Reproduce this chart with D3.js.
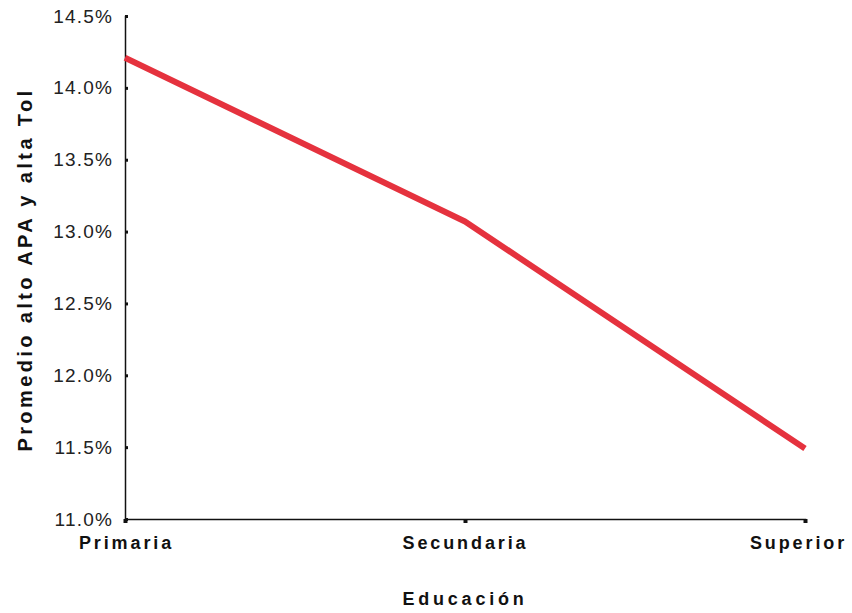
<!DOCTYPE html>
<html>
<head>
<meta charset="utf-8">
<script src="https://cdn.jsdelivr.net/npm/d3@7"></script>
<style>
  body { margin: 0; background: #fff; }
  text { font-family: "Liberation Sans", Arial, sans-serif; }
</style>
</head>
<body>
<div id="chart"></div>
<script>
// education levels and average values (%)
const categories = ["Primaria", "Secundaria", "Superior"];
const values = [14.21, 13.07, 11.49];
const yTicks = [11.0, 11.5, 12.0, 12.5, 13.0, 13.5, 14.0, 14.5];

function drawChart(id) {
  const w = 852;
  const h = 613;
  const margin = { top: 16, right: 47, bottom: 94, left: 125 };

  const svg = d3
    .select(`#${id}`)
    .append("svg")
    .attr("width", w)
    .attr("height", h);

  const x = d3
    .scalePoint()
    .domain(categories)
    .range([margin.left, w - margin.right]);

  const y = d3
    .scaleLinear()
    .domain([11, 14.5])
    .range([h - margin.bottom, margin.top]);

  // y axis
  const yAxis = svg
    .append("g")
    .attr("transform", `translate(${margin.left},0)`)
    .call(
      d3
        .axisLeft(y)
        .tickValues(yTicks)
        .tickSize(-3)
        .tickPadding(12)
        .tickFormat((d) => d3.format(".1f")(d) + "%")
    );
  yAxis.select(".domain").attr("stroke", "#111").attr("stroke-width", 1.5);
  yAxis.selectAll(".tick line").attr("stroke", "#111").attr("stroke-width", 3);
  yAxis
    .selectAll(".tick text")
    .attr("font-size", 19)
    .attr("letter-spacing", 1.2)
    .attr("fill", "#222");

  // x axis
  const xAxis = svg
    .append("g")
    .attr("transform", `translate(0,${h - margin.bottom})`)
    .call(d3.axisBottom(x).tickSize(4).tickPadding(13));
  xAxis.select(".domain").attr("stroke", "#111").attr("stroke-width", 1.5);
  xAxis.selectAll(".tick line").attr("stroke", "#111").attr("stroke-width", 4);
  xAxis
    .selectAll(".tick text")
    .attr("font-size", 18)
    .attr("font-weight", "bold")
    .attr("letter-spacing", 2.9)
    .attr("fill", "#111")
    .attr("dx", (d, i) => (i === 0 ? 1 : i === 2 ? -7 : 0));

  // line
  const line = d3
    .line()
    .x((d, i) => x(categories[i]))
    .y((d) => y(d));

  svg
    .append("path")
    .datum(values)
    .attr("d", line)
    .attr("fill", "none")
    .attr("stroke", "#e5323e")
    .attr("stroke-width", 6)
    .attr("stroke-linejoin", "round");

  // axis titles
  svg
    .append("text")
    .attr("x", x("Secundaria"))
    .attr("y", 605)
    .attr("text-anchor", "middle")
    .attr("font-size", 18)
    .attr("font-weight", "bold")
    .attr("letter-spacing", 3.8)
    .attr("fill", "#111")
    .text("Educación");

  svg
    .append("text")
    .attr("transform", `translate(32,${(margin.top + h - margin.bottom) / 2 + 2}) rotate(-90)`)
    .attr("text-anchor", "middle")
    .attr("font-size", 20)
    .attr("font-weight", "bold")
    .attr("letter-spacing", 3.4)
    .attr("fill", "#111")
    .text("Promedio alto APA y alta Tol");
}

document.addEventListener("DOMContentLoaded", function () {
  drawChart("chart");
});
</script>
</body>
</html>
